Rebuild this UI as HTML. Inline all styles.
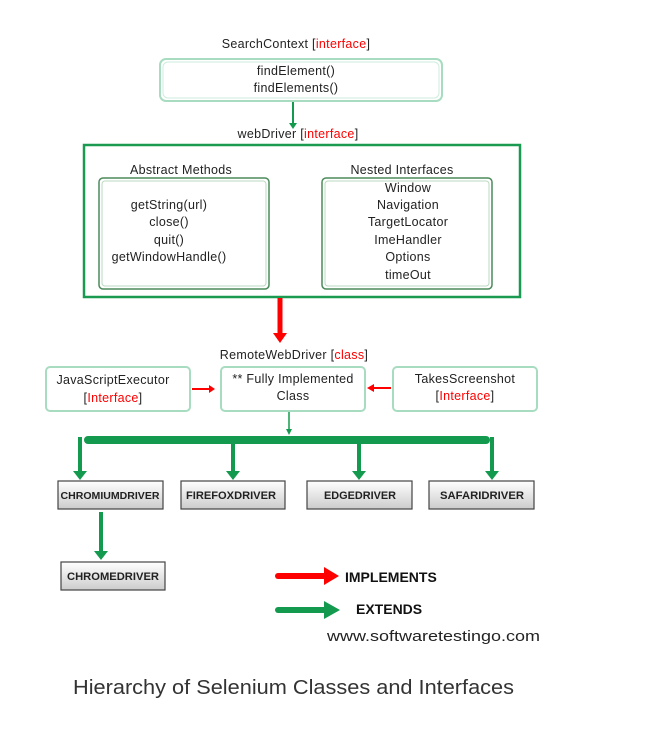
<!DOCTYPE html>
<html><head><meta charset="utf-8"><style>
html,body{margin:0;padding:0;background:#fff;width:667px;height:738px;overflow:hidden}
svg{display:block}
text{font-family:"Liberation Sans",sans-serif;fill:#222}
.r{fill:#f00}
.s{font-size:12.5px;letter-spacing:0.3px}
.b{font-weight:bold;font-size:11px;fill:#222}
</style></head><body>
<svg width="667" height="738" viewBox="0 0 667 738">
<defs>
<linearGradient id="g" x1="0" y1="0" x2="0" y2="1"><stop offset="0" stop-color="#fff"/><stop offset="1" stop-color="#ccc"/></linearGradient>
</defs>
<text class="s" x="296" y="48" text-anchor="middle">SearchContext [<tspan class="r">interface</tspan>]</text>
<rect x="160" y="59" width="282" height="42" rx="6" fill="#fff" stroke="#a8dcc0" stroke-width="2"/>
<rect x="163" y="62" width="276" height="36" rx="5" fill="none" stroke="#cdeedd" stroke-width="1"/>
<text class="s" x="296" y="75" text-anchor="middle">findElement()</text>
<text class="s" x="296" y="92" text-anchor="middle">findElements()</text>
<line x1="293" y1="102" x2="293" y2="124" stroke="#139a4e" stroke-width="2"/>
<polygon points="289,123 297,123 293,129" fill="#139a4e"/>
<text class="s" x="298" y="138" text-anchor="middle">webDriver [<tspan class="r">interface</tspan>]</text>
<rect x="84" y="145" width="436" height="152" fill="none" stroke="#1a9a50" stroke-width="2.5"/>
<text class="s" x="181" y="174" text-anchor="middle">Abstract Methods</text>
<rect x="99" y="178" width="170" height="111" rx="4" fill="none" stroke="#4b8a5a" stroke-width="1.5"/>
<rect x="102" y="181" width="164" height="105" rx="3" fill="none" stroke="#b9d8c0" stroke-width="1"/>
<text class="s" x="169" y="209" text-anchor="middle">getString(url)</text>
<text class="s" x="169" y="226" text-anchor="middle">close()</text>
<text class="s" x="169" y="244" text-anchor="middle">quit()</text>
<text class="s" x="169" y="261" text-anchor="middle">getWindowHandle()</text>
<text class="s" x="402" y="174" text-anchor="middle">Nested Interfaces</text>
<rect x="322" y="178" width="170" height="111" rx="4" fill="none" stroke="#4b8a5a" stroke-width="1.5"/>
<rect x="325" y="181" width="164" height="105" rx="3" fill="none" stroke="#b9d8c0" stroke-width="1"/>
<text class="s" x="408" y="192" text-anchor="middle">Window</text>
<text class="s" x="408" y="209" text-anchor="middle">Navigation</text>
<text class="s" x="408" y="226" text-anchor="middle">TargetLocator</text>
<text class="s" x="408" y="244" text-anchor="middle">ImeHandler</text>
<text class="s" x="408" y="261" text-anchor="middle">Options</text>
<text class="s" x="408" y="279" text-anchor="middle">timeOut</text>
<line x1="280" y1="298" x2="280" y2="334" stroke="#f00" stroke-width="5"/>
<polygon points="273,333 287,333 280,343" fill="#f00"/>
<text class="s" x="294" y="359" text-anchor="middle">RemoteWebDriver [<tspan class="r">class</tspan>]</text>
<rect x="46" y="367" width="144" height="44" rx="4" fill="#fff" stroke="#a8dcc0" stroke-width="2"/>
<text class="s" x="113" y="384" text-anchor="middle">JavaScriptExecutor</text>
<text class="s" x="113" y="402" text-anchor="middle">[<tspan class="r">Interface</tspan>]</text>
<rect x="221" y="367" width="144" height="44" rx="4" fill="#fff" stroke="#a8dcc0" stroke-width="2"/>
<text class="s" x="293" y="383" text-anchor="middle">** Fully Implemented</text>
<text class="s" x="293" y="400" text-anchor="middle">Class</text>
<rect x="393" y="367" width="144" height="44" rx="4" fill="#fff" stroke="#a8dcc0" stroke-width="2"/>
<text class="s" x="465" y="383" text-anchor="middle">TakesScreenshot</text>
<text class="s" x="465" y="400" text-anchor="middle">[<tspan class="r">Interface</tspan>]</text>
<line x1="192" y1="389" x2="210" y2="389" stroke="#f00" stroke-width="2"/>
<polygon points="209,385 215,389 209,393" fill="#f00"/>
<line x1="391" y1="388" x2="373" y2="388" stroke="#f00" stroke-width="2"/>
<polygon points="374,384 367,388 374,392" fill="#f00"/>
<line x1="289" y1="412" x2="289" y2="430" stroke="#139a4e" stroke-width="1.5"/>
<polygon points="286,429 292,429 289,435" fill="#139a4e"/>
<rect x="84" y="436" width="406" height="8" rx="4" fill="#139a4e"/>
<g stroke="#139a4e" stroke-width="4" fill="#139a4e">
<line x1="80" y1="437" x2="80" y2="472"/><line x1="233" y1="444" x2="233" y2="472"/><line x1="359" y1="444" x2="359" y2="472"/><line x1="492" y1="437" x2="492" y2="472"/>
<line x1="101" y1="512" x2="101" y2="552"/>
</g>
<g fill="#139a4e">
<polygon points="73,471 87,471 80,480"/><polygon points="226,471 240,471 233,480"/><polygon points="352,471 366,471 359,480"/><polygon points="485,471 499,471 492,480"/><polygon points="94,551 108,551 101,560"/>
</g>
<g stroke="#444" stroke-width="1.2" fill="url(#g)">
<rect x="58" y="481" width="105" height="28"/><rect x="181" y="481" width="104" height="28"/><rect x="307" y="481" width="105" height="28"/><rect x="429" y="481" width="105" height="28"/><rect x="61" y="562" width="104" height="28"/>
</g>
<text class="b" x="110" y="499" text-anchor="middle" textLength="99" lengthAdjust="spacingAndGlyphs" style="font-size:10.5px">CHROMIUMDRIVER</text>
<text class="b" x="231" y="499" text-anchor="middle" textLength="90" lengthAdjust="spacingAndGlyphs">FIREFOXDRIVER</text>
<text class="b" x="360" y="499" text-anchor="middle" textLength="72" lengthAdjust="spacingAndGlyphs">EDGEDRIVER</text>
<text class="b" x="482" y="499" text-anchor="middle" textLength="84" lengthAdjust="spacingAndGlyphs">SAFARIDRIVER</text>
<text class="b" x="113" y="580" text-anchor="middle" textLength="92" lengthAdjust="spacingAndGlyphs">CHROMEDRIVER</text>
<line x1="278" y1="576" x2="326" y2="576" stroke="#f00" stroke-width="6" stroke-linecap="round"/>
<polygon points="324,567 339,576 324,585" fill="#f00"/>
<text x="345" y="582" style="font-weight:bold;font-size:14px;fill:#111">IMPLEMENTS</text>
<line x1="278" y1="610" x2="326" y2="610" stroke="#139a4e" stroke-width="6" stroke-linecap="round"/>
<polygon points="324,601 340,610 324,619" fill="#139a4e"/>
<text x="356" y="614" style="font-weight:bold;font-size:14px;fill:#111">EXTENDS</text>
<text x="327" y="641" textLength="213" lengthAdjust="spacingAndGlyphs" style="font-size:15px;fill:#222">www.softwaretestingo.com</text>
<text x="73" y="694" textLength="441" lengthAdjust="spacingAndGlyphs" style="font-size:20.5px;fill:#333">Hierarchy of Selenium Classes and Interfaces</text>
</svg>
</body></html>
